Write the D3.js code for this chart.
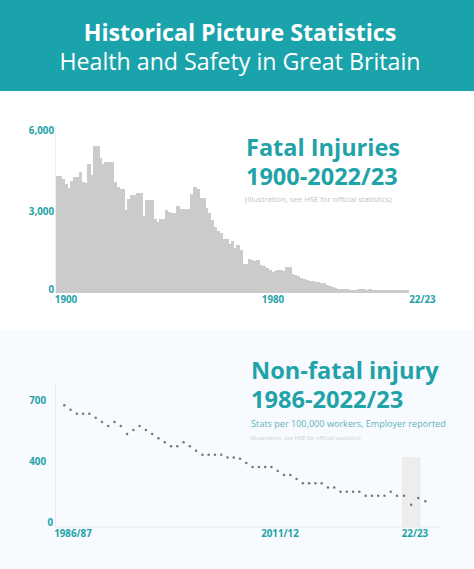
<!DOCTYPE html>
<html><head><meta charset="utf-8">
<script src="https://cdn.jsdelivr.net/npm/d3@7/dist/d3.min.js"></script>
<style>html,body{margin:0;padding:0;background:#fff}svg{display:block;font-family:"Open Sans",sans-serif}</style>
</head><body><svg id="c" width="474" height="569"></svg>
<script>
const fatalValues=[4310,4310,4210,4000,3850,4120,4270,4270,4440,4090,4060,4760,4330,5400,5400,4980,4740,4810,4810,4810,4100,3920,3840,3840,3070,3470,3600,3600,3690,3690,2820,3410,3410,3430,2710,2610,2740,2740,3070,2980,2960,2960,3220,3100,3090,3080,3080,3660,3900,3820,3510,3510,3130,2960,2700,2430,2280,2220,2000,2000,1820,1930,1670,1770,1595,1080,1080,1250,1200,1165,1200,1040,980,920,860,760,800,835,835,800,957,957,710,660,610,540,515,490,450,430,405,405,380,370,305,260,220,170,160,160,160,150,125,125,125,150,160,135,125,135,125,110,100,100,100,100,110,125,125,110,100,100,100];
const fatalTicks=[0,3000,6000];
const fatalTickLabels=["0","3,000","6,000"];
const fatalXLabels=["1900","1980","22/23"];
const nonFatalValues=[677,655,635,635,635,615,594,574,594,574,534,554,574,554,534,513,493,473,473,493,473,451,431,431,431,431,418,418,411,387,361,361,361,361,335,309,309,283,255,255,255,255,229,229,201,201,201,201,175,175,175,175,201,175,175,117,160,139];
const nonFatalTicks=[0,400,700];
const nonFatalXLabels=["1986/87","2011/12","22/23"];
const teal="#1fa2a8";
const svg=d3.select("#c");
svg.append("rect").attr("width",474).attr("height",91).attr("fill","#1ba3ab");
svg.append("rect").attr("y",330).attr("width",474).attr("height",239).attr("fill","#f7fafe");
function txt(s,x,y,size,weight,fill,anchor){return svg.append("text").text(s).attr("x",x).attr("y",y).attr("font-size",size).attr("font-weight",weight).attr("fill",fill).attr("text-anchor",anchor||"start");}
txt("Historical Picture Statistics",240,41,23.2,700,"#fff","middle");
txt("Health and Safety in Great Britain",240,70,23.2,400,"#fff","middle");
txt("Fatal Injuries",246,156,23.5,700,teal);
txt("1900-2022/23",246,185,23.5,700,teal);
txt("(Illustration, see HSE for official statistics)",245,202,7.7,400,"#c4c4c4");
txt("Non-fatal injury",251,379,23.6,700,teal);
txt("1986-2022/23",251,408,23.6,700,teal);
txt("Stats per 100,000 workers, Employer reported",251,427,9.1,400,"#5fb4b8");
txt("(Illustration, see HSE for official statistics)",250,439.5,5.8,400,"#cfcfd4");
// fatal chart
const x1=d3.scaleBand().domain(d3.range(fatalValues.length)).range([55.7,408.3]).padding(0);
const y1=d3.scaleLinear().domain([0,6000]).range([293,130]);
svg.append("line").attr("x1",55.5).attr("x2",55.5).attr("y1",125).attr("y2",293).attr("stroke","#eeeeee");
svg.append("g").attr("shape-rendering","crispEdges").selectAll("rect").data(fatalValues).join("rect")
 .attr("x",(d,i)=>x1(i)).attr("width",x1.bandwidth()+0.8).attr("y",d=>y1(d)).attr("height",d=>y1(0)-y1(d)).attr("fill","#cbcbcb");
const ax1=svg.append("g").attr("transform","translate(54,0)").call(d3.axisLeft(y1).tickValues(fatalTicks).tickFormat((d,i)=>fatalTickLabels[i]).tickSize(0).tickPadding(0));
ax1.select(".domain").remove();
ax1.selectAll("text").attr("font-family","'Open Sans'").attr("font-size",9.8).attr("font-weight",700).attr("fill",teal).attr("dy",(d)=>d===0?"-0.05em":"0.32em");
[66,273,422.5].forEach((x,i)=>txt(fatalXLabels[i],x,303,9.8,700,teal,"middle"));
// non-fatal chart
const x2=d3.scaleLinear().domain([0,53,57]).range([64.3,397,425.3]);
const y2=d3.scaleLinear().domain([0,400,700]).range([522.7,461,400.7]);
svg.append("rect").attr("x",402).attr("y",457).attr("width",18.5).attr("height",70).attr("fill","#ededed");
svg.append("line").attr("x1",55.5).attr("x2",55.5).attr("y1",384).attr("y2",527).attr("stroke","#ebe6ec");
svg.append("line").attr("x1",55.5).attr("x2",440).attr("y1",527.3).attr("y2",527.3).attr("stroke","#eaedf2");
svg.append("g").selectAll("circle").data(nonFatalValues).join("circle")
 .attr("cx",(d,i)=>x2(i)).attr("cy",d=>y2(d)).attr("r",1.25).attr("fill","#77757a");
const ax2=svg.append("g").attr("transform","translate(46,0)").call(d3.axisLeft(y2).tickValues(nonFatalTicks).tickSize(0).tickPadding(0));
ax2.select(".domain").remove();
ax2.selectAll("text").attr("font-family","'Open Sans'").attr("font-size",9.8).attr("font-weight",700).attr("fill",teal).attr("dy","0.32em").attr("dx",d=>d===0?7:0);
[73,280,415].forEach((x,i)=>txt(nonFatalXLabels[i],x,537,9.8,700,teal,"middle"));
</script></body></html>
